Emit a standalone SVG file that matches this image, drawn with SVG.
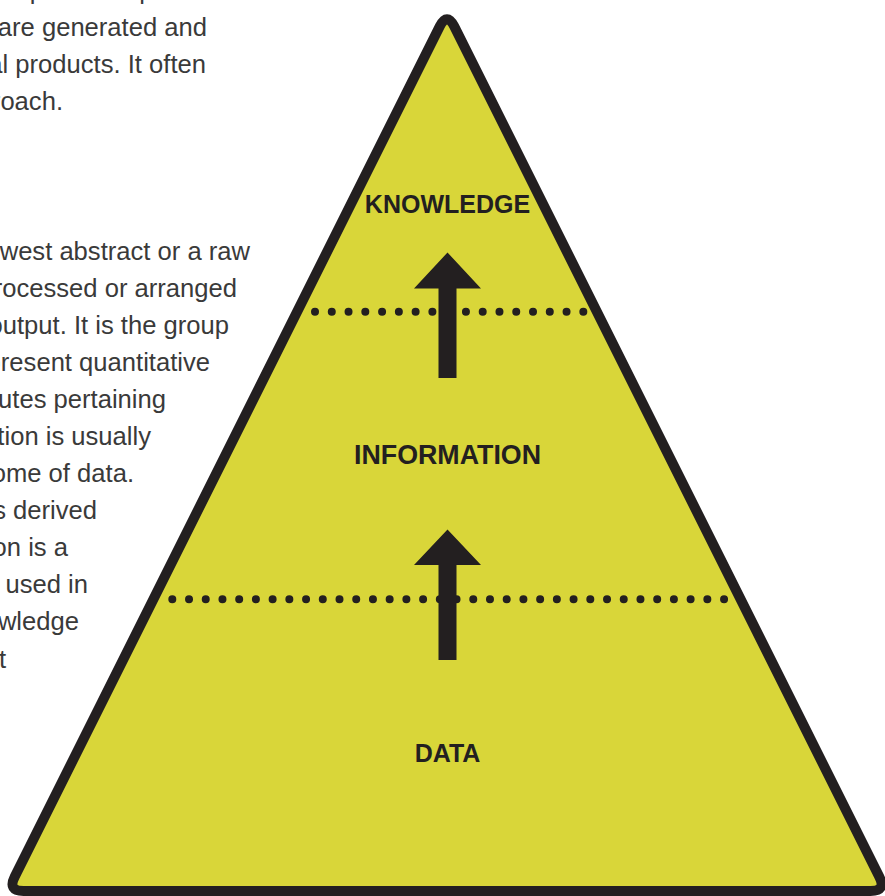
<svg xmlns="http://www.w3.org/2000/svg" width="885" height="896" viewBox="0 0 885 896">
<style>
.body{font-family:"Liberation Sans",Arial,sans-serif;font-size:25.6px;fill:#3a3a3a;text-anchor:end}
.lbl{font-family:"Liberation Sans",Arial,sans-serif;font-weight:bold;font-size:25px;fill:#231f20;text-anchor:middle}
.dots{stroke:#231f20;stroke-width:8;stroke-linecap:round;fill:none}
.arrow{fill:#231f20}
</style>
<rect width="885" height="896" fill="#ffffff"/>
<g id="text">
<text class="body" x="256" y="-1">pieces of processes</text>
<text class="body" x="207" y="36">are generated and</text>
<text class="body" x="206" y="73">al products. It often</text>
<text class="body" x="63" y="110">approach.</text>
<text class="body" x="250" y="260">lowest abstract or a raw</text>
<text class="body" x="237" y="297">processed or arranged</text>
<text class="body" x="229" y="334">output. It is the group</text>
<text class="body" x="210" y="371">represent quantitative</text>
<text class="body" x="166" y="408">attributes pertaining</text>
<text class="body" x="151" y="445">information is usually</text>
<text class="body" x="134" y="482">outcome of data.</text>
<text class="body" x="97" y="519">is derived</text>
<text class="body" x="68" y="556">information is a</text>
<text class="body" x="88" y="593">is used in</text>
<text class="body" x="79" y="630">knowledge</text>
<text class="body" x="6" y="668">it</text>
</g>
<g id="pyramid">
<path d="M439.8 26.3 Q447 12 454.2 26.3 L879.3 876.7 Q886.5 891 870.5 891 L23.5 891 Q7.5 891 14.7 876.7 Z" fill="#d9d639" stroke="#231f20" stroke-width="10" stroke-linejoin="round"/>
</g>
<g id="dividers">
<line class="dots" x1="315" y1="311.7" x2="585" y2="311.7" stroke-dasharray="0 16.77"/>
<line class="dots" x1="172.3" y1="599.3" x2="726" y2="599.3" stroke-dasharray="0 16.72"/>
</g>
<g id="connectors">
<polygon class="arrow" points="447.5,252.5 481,288.5 456.5,288.5 456.5,378 438.5,378 438.5,288.5 414,288.5"/>
<polygon class="arrow" points="447.5,529.5 481,565 456.5,565 456.5,660 438.5,660 438.5,565 414,565"/>
</g>
<g id="knowledge"><text class="lbl" x="447.5" y="213">KNOWLEDGE</text></g>
<g id="information"><text class="lbl" x="447.5" y="464" style="font-size:26.8px">INFORMATION</text></g>
<g id="data"><text class="lbl" x="447.5" y="762">DATA</text></g>
</svg>
